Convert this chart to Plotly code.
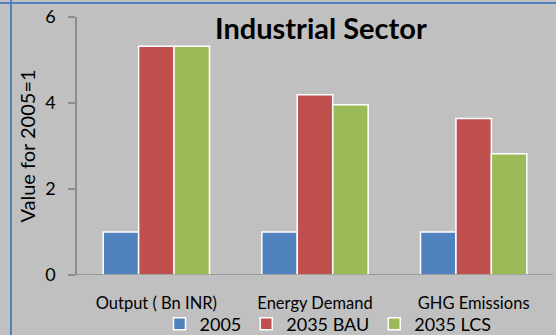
import plotly.graph_objects as go

categories = ["Output ( Bn INR)", "Energy Demand", "GHG Emissions"]
series_names = ["2005", "2035 BAU", "2035 LCS"]
v2005 = [1.0, 1.0, 1.0]
v2035_bau = [5.32, 4.19, 3.64]
v2035_lcs = [5.32, 3.96, 2.82]
y_ticks = [0, 2, 4, 6]

colors = ["#4F81BD", "#C0504D", "#9BBB59"]
values = [v2005, v2035_bau, v2035_lcs]

FONT = "Lato, 'Open Sans', sans-serif"

fig = go.Figure()
for name, vals, c in zip(series_names, values, colors):
    fig.add_trace(go.Bar(
        x=categories, y=vals, name=name,
        marker=dict(color=c, line=dict(color="white", width=1.5)),
    ))

W, H = 556, 335
L, R, T, B = 77, 3, 17, 60
pw = W - L - R
ph = H - T - B

fig.update_layout(
    width=W, height=H,
    margin=dict(l=L, r=R, t=T, b=B, pad=0, autoexpand=False),
    paper_bgcolor="#C0C0C0",
    plot_bgcolor="#C0C0C0",
    barmode="group",
    bargap=0.33,
    bargroupgap=0.0,
    font=dict(family=FONT, color="black", size=14),
    showlegend=True,
    legend=dict(
        orientation="h",
        x=(328 - L) / pw, xanchor="center",
        yref="container",
        y=(H - 324) / H, yanchor="middle",
        font=dict(size=18, family=FONT),
        bgcolor="rgba(0,0,0,0)",
        itemwidth=30,
        traceorder="normal",
    ),
    annotations=[dict(
        text="<b>Industrial Sector</b>",
        x=(321 - L) / pw, xref="paper", xanchor="center",
        y=1 - (28 - T) / ph, yref="paper", yanchor="middle",
        showarrow=False, font=dict(size=29, family=FONT, color="black"),
    )],
    shapes=[
        dict(type="line", xref="paper", yref="paper",
             x0=-L / pw + 11 / pw, x1=-L / pw + 11 / pw, y0=-2, y1=2,
             line=dict(color="#4F81BD", width=2)),
        dict(type="line", xref="paper", yref="paper",
             x0=-1, x1=2, y0=1 + (T - 3) / ph, y1=1 + (T - 3) / ph,
             line=dict(color="#4F81BD", width=2)),
        dict(type="line", xref="paper", yref="y",
             x0=-7 / pw, x1=1, y0=0, y1=0,
             line=dict(color="#8C8C8C", width=1.5)),
    ],
)

fig.update_xaxes(
    showgrid=False, showline=False, ticks="",
    tickfont=dict(size=16.5, family=FONT, color="black"),
    ticklabelstandoff=16,
)
fig.update_yaxes(
    range=[0, 6], tickvals=y_ticks, showgrid=False, zeroline=False,
    showline=True, linecolor="#8C8C8C", linewidth=1.5,
    ticks="outside", ticklen=7, tickcolor="#8C8C8C", tickwidth=1.5,
    tickfont=dict(size=18, family=FONT, color="black"),
    ticklabelstandoff=9,
    title=dict(text="Value for 2005=1", font=dict(size=20, family=FONT, color="black"), standoff=4),
)

fig.write_html("out.html")
